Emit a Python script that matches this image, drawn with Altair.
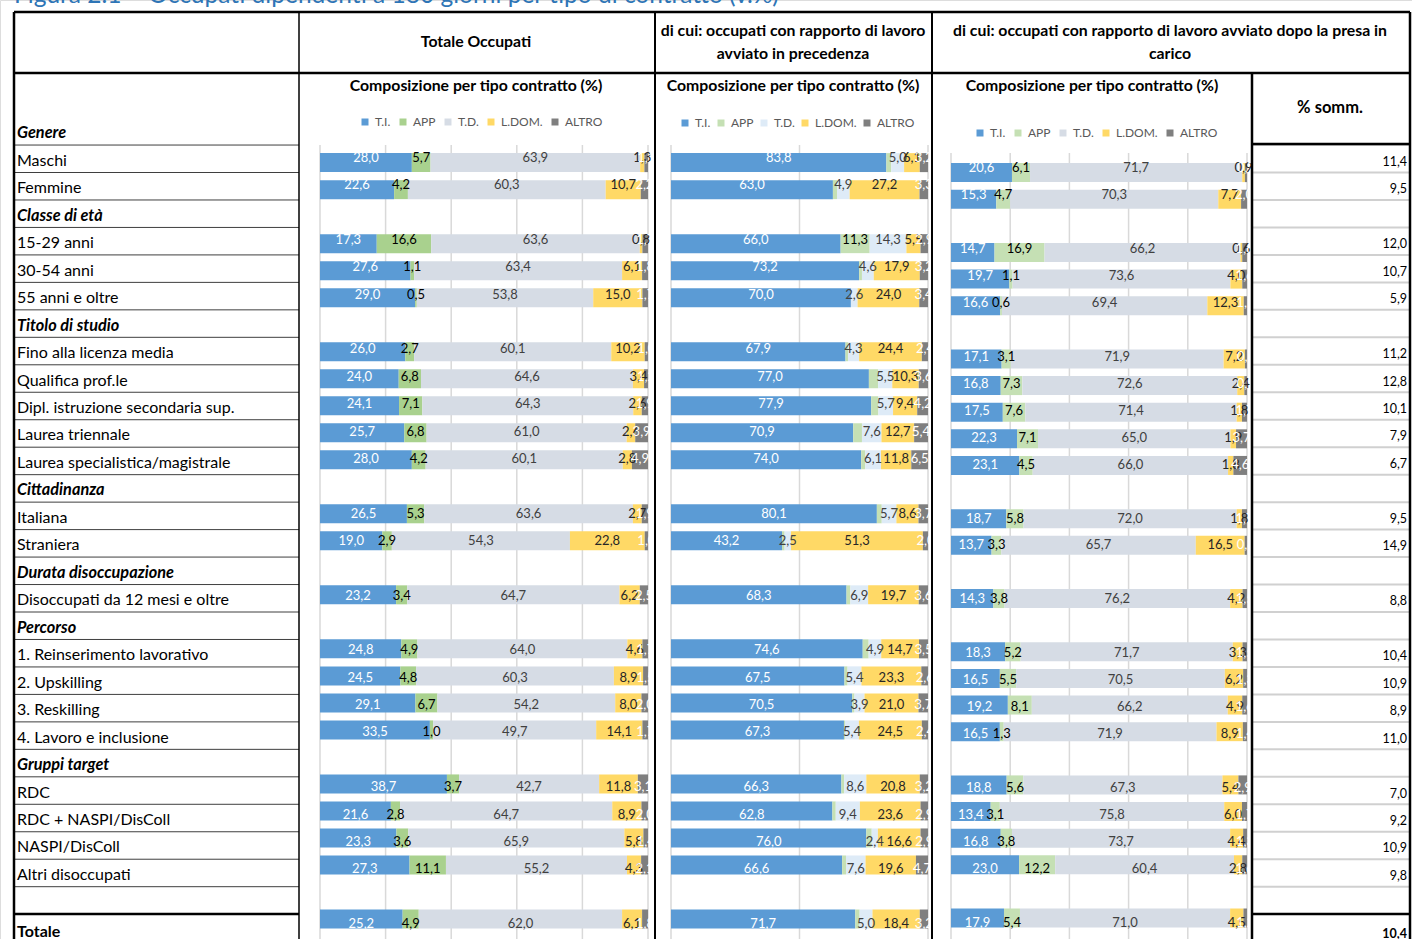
import altair as alt
import pandas as pd

FONT = "Lato"
TITLE = "Figura 2.1 – Occupati dipendenti a 180 giorni per tipo di contratto (v.%)"

ROW_LABELS = [
    "Genere", "Maschi", "Femmine", "Classe di età", "15-29 anni", "30-54 anni",
    "55 anni e oltre", "Titolo di studio", "Fino alla licenza media", "Qualifica prof.le",
    "Dipl. istruzione secondaria sup.", "Laurea triennale", "Laurea specialistica/magistrale",
    "Cittadinanza", "Italiana", "Straniera", "Durata disoccupazione",
    "Disoccupati da 12 mesi e oltre", "Percorso", "1. Reinserimento lavorativo",
    "2. Upskilling", "3. Reskilling", "4. Lavoro e inclusione", "Gruppi target", "RDC",
    "RDC + NASPI/DisColl", "NASPI/DisColl", "Altri disoccupati", "", "Totale",
]
GROUP_ROWS = [0, 3, 7, 13, 16, 18, 23]
TOTAL_ROW = 29
DATA_ROWS = [1, 2, 4, 5, 6, 8, 9, 10, 11, 12, 14, 15, 17, 19, 20, 21, 22, 24, 25, 26, 27, 29]

TYPES = ["T.I.", "APP", "T.D.", "L.DOM.", "ALTRO"]

# Totale Occupati
P1_TI = [28.0, 22.6, 17.3, 27.6, 29.0, 26.0, 24.0, 24.1, 25.7, 28.0, 26.5, 19.0, 23.2, 24.8, 24.5, 29.1, 33.5, 38.7, 21.6, 23.3, 27.3, 25.2]
P1_APP = [5.7, 4.2, 16.6, 1.1, 0.5, 2.7, 6.8, 7.1, 6.8, 4.2, 5.3, 2.9, 3.4, 4.9, 4.8, 6.7, 1.0, 3.7, 2.8, 3.6, 11.1, 4.9]
P1_TD = [63.9, 60.3, 63.6, 63.4, 53.8, 60.1, 64.6, 64.3, 61.0, 60.1, 63.6, 54.3, 64.7, 64.0, 60.3, 54.2, 49.7, 42.7, 64.7, 65.9, 55.2, 62.0]
P1_LD = [1.3, 10.7, 0.8, 6.1, 15.0, 10.2, 3.4, 2.6, 2.6, 2.8, 2.7, 22.8, 6.2, 4.6, 8.9, 8.0, 14.1, 11.8, 8.9, 5.8, 4.3, 6.1]
P1_AL = [1.1, 2.2, 1.7, 1.8, 1.7, 1.0, 1.2, 1.9, 3.9, 4.9, 1.9, 1.0, 2.5, 1.7, 1.5, 2.0, 1.7, 3.1, 2.0, 1.4, 2.1, 1.8]

# di cui: avviato in precedenza
P2_TI = [83.8, 63.0, 66.0, 73.2, 70.0, 67.9, 77.0, 77.9, 70.9, 74.0, 80.1, 43.2, 68.3, 74.6, 67.5, 70.5, 67.3, 66.3, 62.8, 76.0, 66.6, 71.7]
P2_APP = [1.9, 1.6, 11.3, 1.1, 0.0, 1.0, 3.6, 2.8, 3.4, 1.6, 1.9, 1.0, 1.5, 2.3, 1.2, 0.9, 0.4, 1.1, 1.3, 2.1, 1.5, 1.7]
P2_TD = [5.0, 4.9, 14.3, 4.6, 2.6, 4.3, 5.5, 5.7, 7.6, 6.1, 5.7, 2.5, 6.9, 4.9, 5.4, 3.9, 5.4, 8.6, 9.4, 2.4, 7.6, 5.0]
P2_LD = [6.1, 27.2, 5.5, 17.9, 24.0, 24.4, 10.3, 9.4, 12.7, 11.8, 8.6, 51.3, 19.7, 14.7, 23.3, 21.0, 24.5, 20.8, 23.6, 16.6, 19.6, 18.4]
P2_AL = [3.2, 3.3, 2.9, 3.2, 3.4, 2.4, 3.6, 4.2, 5.4, 6.5, 3.7, 2.0, 3.6, 3.5, 2.6, 3.7, 2.4, 3.2, 2.9, 2.9, 4.7, 3.2]

# di cui: avviato dopo la presa in carico
P3_TI = [20.6, 15.3, 14.7, 19.7, 16.6, 17.1, 16.8, 17.5, 22.3, 23.1, 18.7, 13.7, 14.3, 18.3, 16.5, 19.2, 16.5, 18.8, 13.4, 16.8, 23.0, 17.9]
P3_APP = [6.1, 4.7, 16.9, 1.1, 0.6, 3.1, 7.3, 7.6, 7.1, 4.5, 5.8, 3.3, 3.8, 5.2, 5.5, 8.1, 1.3, 5.6, 3.1, 3.8, 12.2, 5.4]
P3_TD = [71.7, 70.3, 66.2, 73.6, 69.4, 71.9, 72.6, 71.4, 65.0, 66.0, 72.0, 65.7, 76.2, 71.7, 70.5, 66.2, 71.9, 67.3, 75.8, 73.7, 60.4, 71.0]
P3_LD = [0.9, 7.7, 0.6, 4.0, 12.3, 7.2, 2.4, 1.8, 1.9, 1.8, 1.8, 16.5, 4.2, 3.3, 6.2, 4.9, 8.9, 5.4, 6.0, 4.4, 2.8, 4.5]
P3_AL = [0.7, 2.0, 1.6, 1.6, 1.1, 0.7, 0.9, 1.7, 3.7, 4.6, 1.7, 0.8, 1.5, 1.5, 1.3, 1.6, 1.4, 2.9, 1.7, 1.3, 1.6, 1.2]

SOMM = [11.4, 9.5, 12.0, 10.7, 5.9, 11.2, 12.8, 10.1, 7.9, 6.7, 9.5, 14.9, 8.8, 10.4, 10.9, 8.9, 11.0, 7.0, 9.2, 10.9, 9.8, 10.4]

COLORS_P1 = ["#5B9BD5", "#A9D18E", "#D6DCE5", "#FFD966", "#7F7F7F"]
COLORS_P2 = ["#5B9BD5", "#C5E0B4", "#DEEBF7", "#FFD966", "#7F7F7F"]
COLORS_P3 = ["#5B9BD5", "#C5E0B4", "#D6DCE5", "#FFD966", "#7F7F7F"]
LABEL_COLORS = {"T.I.": "#FFFFFF", "APP": "#000000", "T.D.": "#404040", "L.DOM.": "#262626", "ALTRO": "#FFFFFF"}

GRID_P1 = [0, 20, 40, 60, 80, 100]
GRID_P2 = [0, 50, 100]
GRID_P3 = [0, 20, 40, 60, 80, 100]


def fmt(v):
    return f"{v:.1f}".replace(".", ",")


def panel_df(series, name):
    recs = []
    for k, t in enumerate(TYPES):
        for r, v in zip(DATA_ROWS, series[k]):
            show = True
            if name == "p2" and t == "APP" and v < 5:
                show = False
            if v <= 0:
                show = False
            recs.append(dict(row=r, type=t, order=k, value=v, label=fmt(v),
                             tc=LABEL_COLORS[t], show=show))
    return pd.DataFrame(recs)


ONE = pd.DataFrame({"a": [0]})


def txt(s, x, y, size=15.8, weight="normal", style="normal", align="center", color="#000000", baseline="middle"):
    return alt.Chart(ONE).mark_text(
        font=FONT, fontSize=size, fontWeight=weight, fontStyle=style, align=align,
        baseline=baseline, color=color
    ).encode(text=alt.value(s), x=alt.value(x), y=alt.value(y))


def rule(x1, y1, x2, y2, color="#000000", w=1.0):
    return alt.Chart(ONE).mark_rule(color=color, strokeWidth=w).encode(
        x=alt.value(x1), x2=alt.value(x2), y=alt.value(y1), y2=alt.value(y2))


def panel(series, name, xr, yr, colors, grid, grid_top, leg_x, leg_y, col_pad):
    d = panel_df(series, name)
    xs = alt.Scale(domain=[0, 100], range=xr, nice=False, zero=False)
    ys = alt.Scale(domain=[0, 29], range=yr, nice=False, zero=False)
    g = alt.Chart(pd.DataFrame({"g": grid})).mark_rule(color="#D9D9D9", strokeWidth=1.5).encode(
        x=alt.X("g:Q", scale=xs, axis=None), y=alt.value(grid_top), y2=alt.value(939))
    base = alt.Chart(d).transform_stack(
        stack="value", groupby=["row"], as_=["x0", "x1"],
        sort=[alt.SortField("order", order="ascending")])
    bars = base.mark_bar(size=19).encode(
        x=alt.X("x0:Q", scale=xs, axis=None),
        x2="x1:Q",
        y=alt.Y("row:Q", scale=ys, axis=None),
        color=alt.Color("type:N", scale=alt.Scale(domain=TYPES, range=colors),
                        legend=alt.Legend(orient="none", legendX=leg_x, legendY=leg_y,
                                          direction="horizontal", title=None,
                                          symbolType="square", symbolSize=49,
                                          symbolStrokeWidth=0, labelFont=FONT,
                                          labelFontSize=12, labelColor="#595959",
                                          columnPadding=col_pad, labelOffset=4,
                                          padding=0)),
    )
    labels = base.transform_filter("datum.show").transform_calculate(
        mid="(datum.x0 + datum.x1) / 2").mark_text(
        font=FONT, fontSize=13, baseline="middle", align="center").encode(
        x=alt.X("mid:Q", scale=xs, axis=None),
        y=alt.Y("row:Q", scale=ys, axis=None),
        text="label:N",
        color=alt.Color("tc:N", scale=None),
    )
    return [g, bars, labels]


# ---------- left label column and % somm column ----------
rows_df = pd.DataFrame({"row": list(range(len(ROW_LABELS))), "label": ROW_LABELS})
rows_df["kind"] = ["group" if i in GROUP_ROWS else ("total" if i == TOTAL_ROW else "item")
                   for i in range(len(ROW_LABELS))]
ROW_SCALE = alt.Scale(domain=[0, 29], range=[131.3, 927.9], nice=False, zero=False)

lab_item = alt.Chart(rows_df).transform_filter("datum.kind == 'item'").mark_text(
    font=FONT, fontSize=16, align="left", baseline="middle", dy=2, color="#000000").encode(
    x=alt.value(17), y=alt.Y("row:Q", scale=ROW_SCALE, axis=None), text="label:N")
lab_group = alt.Chart(rows_df).transform_filter("datum.kind == 'group'").mark_text(
    font=FONT, fontSize=16.3, fontWeight="bold", fontStyle="italic", align="left",
    baseline="middle", dy=2, color="#000000").encode(
    x=alt.value(17), y=alt.Y("row:Q", scale=ROW_SCALE, axis=None), text="label:N")
lab_total = alt.Chart(rows_df).transform_filter("datum.kind == 'total'").mark_text(
    font=FONT, fontSize=16, fontWeight="bold", align="left",
    baseline="middle", dy=4, color="#000000").encode(
    x=alt.value(17), y=alt.Y("row:Q", scale=ROW_SCALE, axis=None), text="label:N")

line_df = pd.DataFrame({"b": [i + 0.5 for i in range(28)]})
label_lines = alt.Chart(line_df).mark_rule(color="#3F3F3F", strokeWidth=1).encode(
    x=alt.value(14), x2=alt.value(299), y=alt.Y("b:Q", scale=ROW_SCALE, axis=None))
somm_lines = alt.Chart(line_df).transform_filter("datum.b < 28").mark_rule(
    color="#D0D0D0", strokeWidth=2).encode(
    x=alt.value(1252), x2=alt.value(1410), y=alt.Y("b:Q", scale=ROW_SCALE, axis=None))

somm_df = pd.DataFrame({"row": DATA_ROWS, "v": [fmt(v) for v in SOMM]})
somm_txt = alt.Chart(somm_df).transform_filter("datum.row != 29").mark_text(
    font=FONT, fontSize=12.5, align="right", baseline="middle", dy=3, color="#000000").encode(
    x=alt.value(1407), y=alt.Y("row:Q", scale=ROW_SCALE, axis=None), text="v:N")
somm_tot = alt.Chart(somm_df).transform_filter("datum.row == 29").mark_text(
    font=FONT, fontSize=12.5, fontWeight="bold", align="right", baseline="middle", dy=6,
    color="#000000").encode(
    x=alt.value(1407), y=alt.Y("row:Q", scale=ROW_SCALE, axis=None), text="v:N")

# ---------- panels ----------
p1 = panel([P1_TI, P1_APP, P1_TD, P1_LD, P1_AL], "p1", [320, 648], [130.6, 924],
           COLORS_P1, GRID_P1, 145, 359, 116, 6)
p2 = panel([P2_TI, P2_APP, P2_TD, P2_LD, P2_AL], "p2", [671, 928], [130.6, 924],
           COLORS_P2, GRID_P2, 145, 679, 117, 4)
p3 = panel([P3_TI, P3_APP, P3_TD, P3_LD, P3_AL], "p3", [951, 1247], [141, 923],
           COLORS_P3, GRID_P3, 153, 974, 127, 6)

# ---------- headers and borders ----------
headers = [
    txt(TITLE, 14, 3, size=24.5, color="#2E75B6", align="left", baseline="alphabetic"),
    txt("Totale Occupati", 476, 42, weight="bold"),
    txt("di cui: occupati con rapporto di lavoro", 793, 31, weight="bold"),
    txt("avviato in precedenza", 793, 54, weight="bold"),
    txt("di cui: occupati con rapporto di lavoro avviato dopo la presa in", 1170, 31, weight="bold"),
    txt("carico", 1170, 54, weight="bold"),
    txt("Composizione per tipo contratto (%)", 476, 86, weight="bold"),
    txt("Composizione per tipo contratto (%)", 793, 86, weight="bold"),
    txt("Composizione per tipo contratto (%)", 1092, 86, weight="bold"),
    txt("% somm.", 1330, 108, size=16.5, weight="bold"),
]

borders = [
    rule(14, 12, 1410, 12, w=2.5),
    rule(14, 73, 1410, 73, w=2.5),
    rule(14, 12, 14, 939, w=2.5),
    rule(299, 12, 299, 939, w=1.5),
    rule(655, 12, 655, 939, w=2),
    rule(932, 12, 932, 939, w=2),
    rule(1252, 73, 1252, 939, w=2.5),
    rule(1410, 12, 1410, 939, w=2.5),
    rule(1252, 144, 1410, 144, w=2.5),
    rule(14, 914, 299, 914, w=2.5),
    rule(1252, 914, 1410, 914, w=2.5),
]

layers = (p1 + p2 + p3 + [label_lines, somm_lines, lab_item, lab_group, lab_total,
                          somm_txt, somm_tot] + headers + borders)

chart = alt.layer(*layers).resolve_scale(
    x="independent", y="independent", color="independent"
).properties(
    width=1412, height=939, padding=0,
    autosize=alt.AutoSizeParams(type="none"),
).configure_view(stroke=None).configure(background="#FFFFFF")

chart.save("out.html", embed_options={"renderer": "svg", "actions": False})
